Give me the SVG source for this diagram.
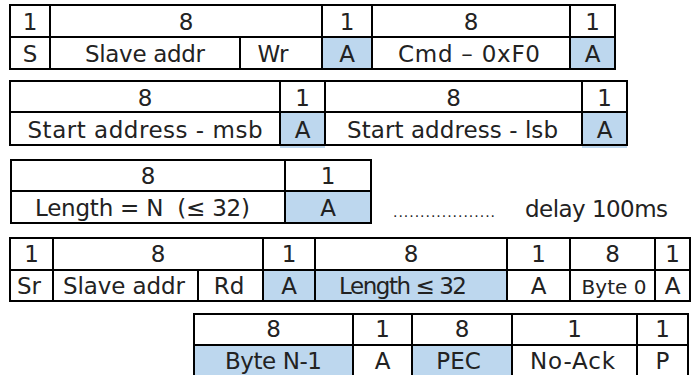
<svg xmlns="http://www.w3.org/2000/svg" width="696" height="375" viewBox="0 0 696 375">
<style>
.b{fill:#bdd7ee;stroke:none}
.f{fill:none;stroke:#000;stroke-width:2}
.l{stroke:#000;stroke-width:2}
text{font-family:"DejaVu Sans","Liberation Sans",sans-serif;font-size:23px;fill:#222;text-anchor:middle;white-space:pre}
</style>
<rect width="696" height="375" fill="#fff"/>
<g id="frame1">
<rect class="b" x="322" y="37" width="50" height="32"/>
<rect class="b" x="570" y="37" width="45" height="32"/>
<rect class="f" x="10" y="5" width="605" height="64"/>
<line class="l" x1="10" y1="37" x2="615" y2="37"/>
<line class="l" x1="50" y1="5" x2="50" y2="69"/>
<line class="l" x1="240" y1="37" x2="240" y2="69"/>
<line class="l" x1="322" y1="5" x2="322" y2="69"/>
<line class="l" x1="372" y1="5" x2="372" y2="69"/>
<line class="l" x1="570" y1="5" x2="570" y2="69"/>
<text x="30" y="30">1</text><text x="186" y="30">8</text><text x="347" y="30">1</text><text x="471" y="30">8</text><text x="592.5" y="30">1</text>
<text x="30" y="62">S</text>
<text x="145" y="62" textLength="120" lengthAdjust="spacing">Slave addr</text>
<text x="273" y="62">Wr</text>
<text x="347" y="62">A</text>
<text x="469" y="62" textLength="142" lengthAdjust="spacing">Cmd – 0xF0</text>
<text x="592.5" y="62">A</text>
</g>
<g id="frame2">
<rect class="b" x="280" y="112" width="45" height="36"/>
<rect class="b" x="582" y="112" width="45" height="36"/>
<rect class="f" x="10" y="81" width="617" height="64"/>
<line class="l" x1="10" y1="112" x2="627" y2="112"/>
<line class="l" x1="280" y1="81" x2="280" y2="145"/>
<line class="l" x1="325" y1="81" x2="325" y2="145"/>
<line class="l" x1="582" y1="81" x2="582" y2="145"/>
<text x="145" y="106">8</text><text x="302.5" y="106">1</text><text x="453.5" y="106">8</text><text x="604.5" y="106">1</text>
<text x="145" y="138" textLength="235" lengthAdjust="spacing">Start address - msb</text>
<text x="302.5" y="138">A</text>
<text x="452.5" y="138" textLength="211" lengthAdjust="spacing">Start address - lsb</text>
<text x="604.5" y="138">A</text>
</g>
<g id="frame3">
<rect class="b" x="285" y="191" width="86" height="32"/>
<rect class="f" x="11" y="160" width="360" height="63"/>
<line class="l" x1="11" y1="191" x2="371" y2="191"/>
<line class="l" x1="285" y1="160" x2="285" y2="223"/>
<text x="148" y="184">8</text><text x="328" y="184">1</text>
<text x="142.5" y="216" textLength="215" lengthAdjust="spacing">Length = N  (≤ 32)</text>
<text x="328" y="216">A</text>
</g>
<g id="delay">
<text x="444" y="217" textLength="102" lengthAdjust="spacing" style="font-size:14px">...................</text>
<text x="596.5" y="217" textLength="143" lengthAdjust="spacing">delay 100ms</text>
</g>
<g id="frame4">
<rect class="b" x="263" y="270" width="244" height="31"/>
<rect class="f" x="10" y="238" width="680" height="63"/>
<line class="l" x1="10" y1="270" x2="690" y2="270"/>
<line class="l" x1="53" y1="238" x2="53" y2="301"/>
<line class="l" x1="198" y1="270" x2="198" y2="301"/>
<line class="l" x1="263" y1="238" x2="263" y2="301"/>
<line class="l" x1="315" y1="238" x2="315" y2="301"/>
<line class="l" x1="507" y1="238" x2="507" y2="301"/>
<line class="l" x1="570" y1="238" x2="570" y2="301"/>
<line class="l" x1="655" y1="238" x2="655" y2="301"/>
<text x="31.5" y="262">1</text><text x="158" y="262">8</text><text x="289" y="262">1</text><text x="411" y="262">8</text><text x="538.5" y="262">1</text><text x="612.5" y="262">8</text><text x="672.5" y="262">1</text>
<text x="29" y="294">Sr</text>
<text x="124" y="294" textLength="122" lengthAdjust="spacing">Slave addr</text>
<text x="229" y="294">Rd</text>
<text x="289" y="294">A</text>
<text x="403" y="294" textLength="128" lengthAdjust="spacing">Length ≤ 32</text>
<text x="538.5" y="294">A</text>
<text x="614" y="294" style="font-size:20px">Byte 0</text>
<text x="672.5" y="294">A</text>
</g>
<g id="frame5">
<rect class="b" x="194" y="345" width="159" height="32"/>
<rect class="b" x="412" y="345" width="100" height="32"/>
<rect class="f" x="194" y="314" width="494" height="64"/>
<line class="l" x1="194" y1="345" x2="688" y2="345"/>
<line class="l" x1="353" y1="314" x2="353" y2="378"/>
<line class="l" x1="412" y1="314" x2="412" y2="378"/>
<line class="l" x1="512" y1="314" x2="512" y2="378"/>
<line class="l" x1="637" y1="314" x2="637" y2="378"/>
<text x="273.5" y="337">8</text><text x="382.5" y="337">1</text><text x="462" y="337">8</text><text x="574.5" y="337">1</text><text x="662.5" y="337">1</text>
<text x="273.5" y="369" textLength="97" lengthAdjust="spacing">Byte N-1</text>
<text x="382.5" y="369">A</text>
<text x="458.5" y="369">PEC</text>
<text x="572.5" y="369" textLength="85" lengthAdjust="spacing">No-Ack</text>
<text x="662.5" y="369">P</text>
</g>
</svg>
